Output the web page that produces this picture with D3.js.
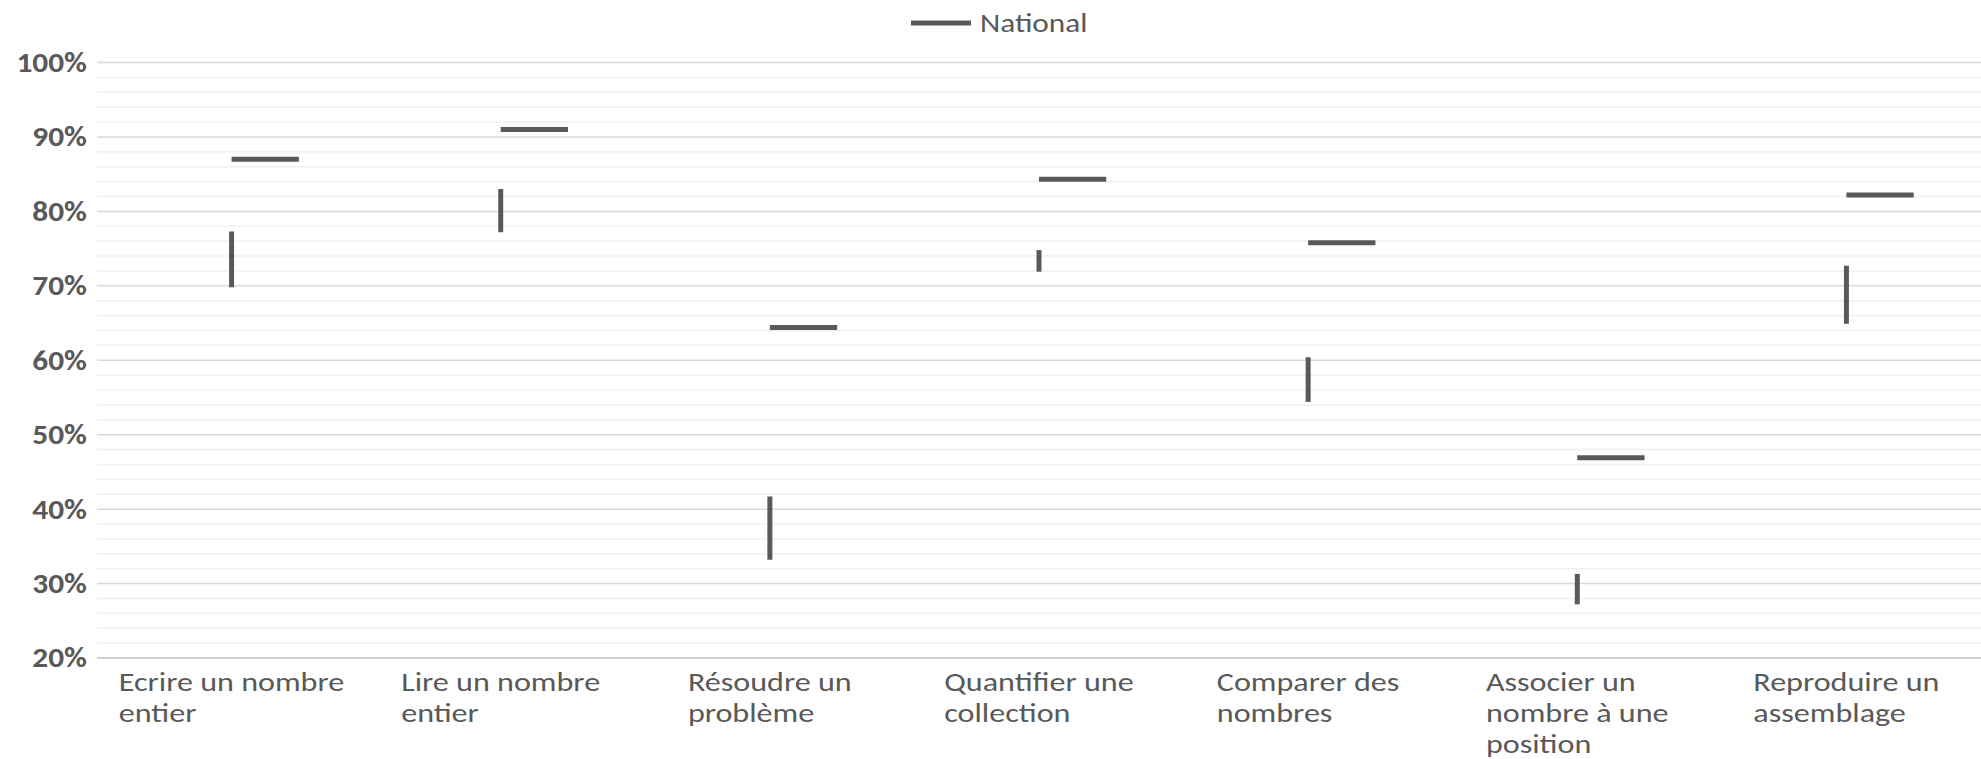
<!DOCTYPE html>
<html>
<head>
<meta charset="utf-8">
<script src="https://cdn.jsdelivr.net/npm/d3@7"></script>
<style>
  body { margin: 0; background: #fff; }
  text { font-family: Carlito, Lato, "Open Sans", sans-serif; fill: #595959; }
</style>
</head>
<body>
<script>
// data
var categories = ['Ecrire un nombre\nentier', 'Lire un nombre\nentier', 'Résoudre un\nproblème',
  'Quantifier une\ncollection', 'Comparer des\nnombres', 'Associer un\nnombre à une\nposition',
  'Reproduire un\nassemblage'];
var highValues = [77.3, 83.0, 41.7, 74.8, 60.4, 31.3, 72.7];
var lowValues = [69.8, 77.2, 33.2, 71.9, 54.4, 27.2, 64.9];
var nationalValues = [87.0, 91.0, 64.4, 84.3, 75.8, 46.9, 82.2];
var yTicks = [20, 30, 40, 50, 60, 70, 80, 90, 100];
var seriesName = 'National';

var width = 1981, height = 759;
var plotLeft = 97, plotRight = 1981, plotTop = 62.5, plotBottom = 658;
var markColor = '#595959';

var svg = d3.select('body').append('svg')
    .attr('width', width)
    .attr('height', height);

var x = d3.scaleBand().domain(categories).range([plotLeft, plotRight]).padding(0);
var y = d3.scaleLinear().domain([20, 100]).range([plotBottom, plotTop]);

// minor gridlines every 2%
var minor = d3.range(20, 100.01, 2).filter(function(d) { return d % 10 != 0; });
svg.append('g').selectAll('line')
    .data(minor)
    .enter().append('line')
    .attr('x1', plotLeft).attr('x2', plotRight)
    .attr('y1', function(d) { return y(d); })
    .attr('y2', function(d) { return y(d); })
    .attr('stroke', '#f0f0f0')
    .attr('stroke-width', 1.5);

// major gridlines
svg.append('g').selectAll('line')
    .data(yTicks.filter(function(d) { return d > 20; }))
    .enter().append('line')
    .attr('x1', plotLeft).attr('x2', plotRight)
    .attr('y1', function(d) { return y(d); })
    .attr('y2', function(d) { return y(d); })
    .attr('stroke', '#d9d9d9')
    .attr('stroke-width', 1.5);

// y axis labels (the source font runs a bit wider, so stretch horizontally)
var yAxis = d3.axisLeft(y).tickValues(yTicks).tickSize(0).tickPadding(9)
    .tickFormat(function(d) { return d + '%'; });
var ya = svg.append('g').attr('transform', 'translate(' + plotLeft + ',0)').call(yAxis);
ya.select('.domain').remove();
ya.selectAll('text')
    .style('font-family', 'Carlito, Lato, sans-serif')
    .style('font-size', '28px')
    .style('font-weight', 'bold')
    .attr('fill', '#595959')
    .attr('transform', 'scale(1.12,1)');

// x axis line
svg.append('line')
    .attr('x1', plotLeft).attr('x2', plotRight)
    .attr('y1', plotBottom).attr('y2', plotBottom)
    .attr('stroke', '#bfbfbf')
    .attr('stroke-width', 1.5);

// category labels, block centred, lines left aligned
var stretch = 1.19;
categories.forEach(function(c) {
  var lines = c.split('\n');
  var t = svg.append('text')
      .style('font-size', '27px')
      .attr('y', 691);
  lines.forEach(function(l, i) {
    t.append('tspan').attr('x', 0).attr('dy', i == 0 ? 0 : 31).text(l);
  });
  var w = 0;
  t.selectAll('tspan').each(function() { w = Math.max(w, this.getComputedTextLength()); });
  var x0 = x(c) + x.bandwidth() / 2 - w * stretch / 2;
  t.attr('transform', 'translate(' + x0 + ',0) scale(' + stretch + ',1)');
});

var cx = function(d, i) { return x(categories[i]) + x.bandwidth() / 2; };

// high-low bars
svg.append('g').selectAll('line')
    .data(highValues)
    .enter().append('line')
    .attr('x1', cx).attr('x2', cx)
    .attr('y1', function(d) { return y(d); })
    .attr('y2', function(d, i) { return y(lowValues[i]); })
    .attr('stroke', markColor)
    .attr('stroke-width', 5);

// national dashes
svg.append('g').selectAll('line')
    .data(nationalValues)
    .enter().append('line')
    .attr('x1', cx)
    .attr('x2', function(d, i) { return cx(d, i) + x.bandwidth() * 0.25; })
    .attr('y1', function(d) { return y(d); })
    .attr('y2', function(d) { return y(d); })
    .attr('stroke', markColor)
    .attr('stroke-width', 5);

// legend
var lg = svg.append('g');
lg.append('line')
    .attr('x1', 911).attr('x2', 971)
    .attr('y1', 23).attr('y2', 23)
    .attr('stroke', markColor)
    .attr('stroke-width', 5);
lg.append('text')
    .attr('x', 0).attr('y', 32)
    .attr('transform', 'translate(980,0) scale(1.16,1)')
    .style('font-size', '27px')
    .text(seriesName);
</script>
</body>
</html>
